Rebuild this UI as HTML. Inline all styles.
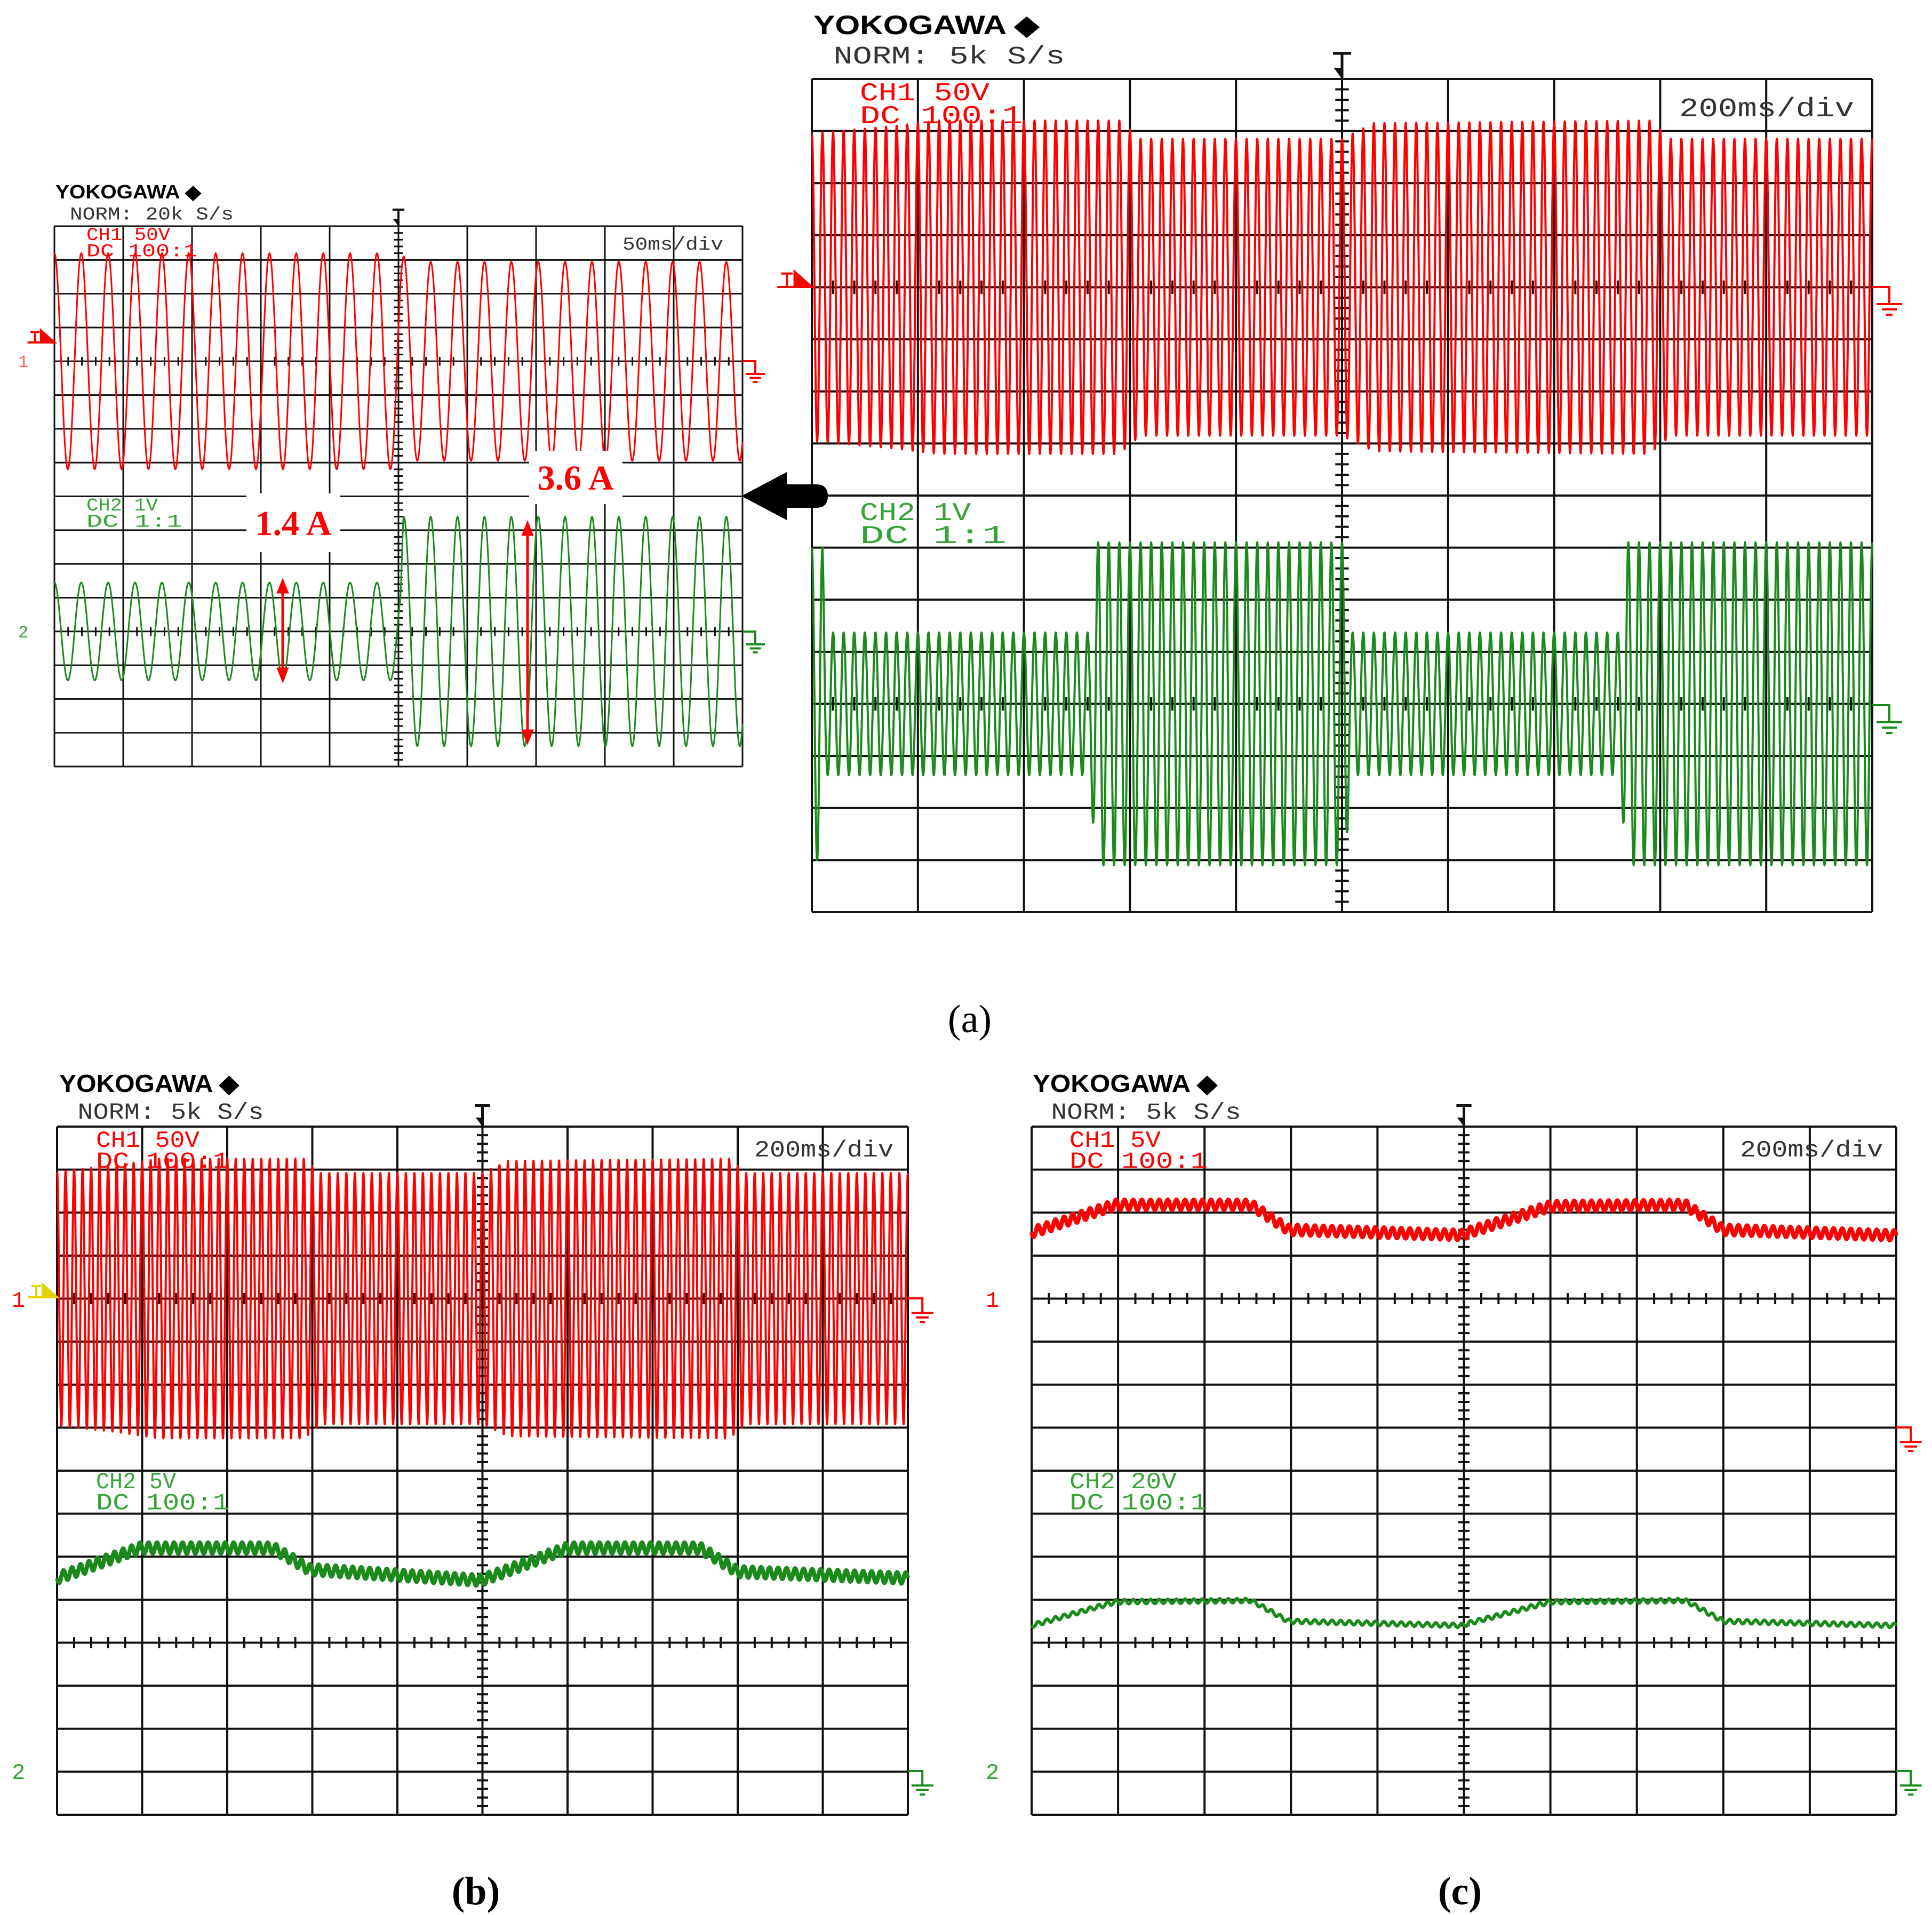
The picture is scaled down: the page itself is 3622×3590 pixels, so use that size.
<!DOCTYPE html>
<html><head><meta charset="utf-8"><style>
html,body{margin:0;padding:0;background:#fff}
svg{display:block}
.mono{font-family:"Liberation Mono",monospace}
.brand{font-family:"Liberation Sans",sans-serif;font-weight:bold}
.cap{font-family:"Liberation Serif",serif}
</style></head><body>
<svg id="fig" width="3622" height="3590" viewBox="0 0 3622 3590" xmlns="http://www.w3.org/2000/svg">
<g id="layer-grid"></g>
<g id="layer-wave"></g>
<g id="layer-top"></g>
</svg>
<script>
// ===== data =====
const smallT = [0, 0.50, 0.52, 1];
const smallRedAmp = [3.2, 3.2, 2.95, 2.95];
const smallGreenT = [0, 0.503, 0.507, 1];
const smallGreenAmp = [1.45, 1.45, 3.4, 3.4];
const smallCycles = 25.6;
const bigRedT = [0, 0.08, 0.12, 0.29, 0.31, 0.50, 0.53, 0.79, 0.81, 1];
const bigRedAmp = [2.95, 3.1, 3.2, 3.2, 2.85, 2.85, 3.15, 3.2, 2.85, 2.85];
const bigGreenT = [0, 0.010, 0.014, 0.262, 0.268, 0.503, 0.508, 0.762, 0.768, 1];
const bigGreenAmp = [3.0, 3.0, 1.37, 1.37, 3.1, 3.1, 1.37, 1.37, 3.1, 3.1];
const bigCycles = 100;
const bRedT = [0, 0.07, 0.12, 0.29, 0.31, 0.50, 0.53, 0.79, 0.81, 1];
const bRedAmp = [2.95, 3.1, 3.25, 3.25, 2.92, 2.92, 3.2, 3.25, 2.92, 2.92];
const levelT = [0, 0.097, 0.254, 0.297, 0.498, 0.505, 0.60, 0.756, 0.80, 1];
const bGreenLevel = [10.5, 9.8, 9.8, 10.3, 10.55, 10.5, 9.8, 9.8, 10.35, 10.5];
const cRedLevel = [2.46, 1.82, 1.82, 2.4, 2.52, 2.46, 1.85, 1.82, 2.4, 2.53];
const cGreenLevel = [11.6, 11.05, 11.02, 11.5, 11.6, 11.55, 11.05, 11.02, 11.5, 11.6];
const rippleCycles = 100;
const xDivs = 10, yDivs = 16;

const NS = 'http://www.w3.org/2000/svg';
const gGrid = document.getElementById('layer-grid');
const gWave = document.getElementById('layer-wave');
const gTop = document.getElementById('layer-top');
function mk(tag, attrs, parent) {
  const e = document.createElementNS(NS, tag);
  for (const k in attrs) e.setAttribute(k, attrs[k]);
  parent.appendChild(e);
  return e;
}
function lerp(ts, vs, t) {
  if (t <= ts[0]) return vs[0];
  for (let i = 1; i < ts.length; i++) {
    if (t <= ts[i]) { const f = (t - ts[i-1]) / (ts[i] - ts[i-1]); return vs[i-1] + f * (vs[i] - vs[i-1]); }
  }
  return vs[vs.length - 1];
}
const panels = {
  small: {x0: 102, y0: 424, x1: 1392, y1: 1437, sw: 3},
  big:   {x0: 1522, y0: 148, x1: 3510, y1: 1710, sw: 4},
  b:     {x0: 107, y0: 2112, x1: 1702, y1: 3402, sw: 4},
  c:     {x0: 1934, y0: 2112, x1: 3555, y1: 3402, sw: 4}
};
function xs(p, t) { return p.x0 + t * (p.x1 - p.x0); }
function ys(p, r) { return p.y0 + r * (p.y1 - p.y0) / yDivs; }

function drawGrid(name, p) {
  const g = mk('g', {}, gGrid);
  
  
  for (let i = 0; i <= xDivs; i++) {
    const x = xs(p, i / xDivs);
    const l = mk('line', {x1: x, y1: p.y0, x2: x, y2: p.y1, stroke: '#111', 'stroke-width': p.sw}, g);
    
    
  }
  for (let j = 0; j <= yDivs; j++) {
    const y = ys(p, j);
    const l = mk('line', {x1: p.x0, y1: y, x2: p.x1, y2: y, stroke: '#111', 'stroke-width': p.sw}, g);
    
    
  }
  const cw = (p.x1 - p.x0) / xDivs, rh = (p.y1 - p.y0) / yDivs, tl = rh * 0.13;
  [4, 12].forEach(r => {
    const y = ys(p, r);
    for (let k = 1; k < xDivs * 5; k++) {
      if (k % 5 === 0) continue;
      const x = p.x0 + k * cw / 5;
      mk('line', {x1: x, y1: y - tl, x2: x, y2: y + tl, stroke: '#111', 'stroke-width': p.sw}, g);
    }
  });
  const cx = xs(p, 0.5);
  for (let k = 1; k < yDivs * 5; k++) {
    if (k % 5 === 0) continue;
    const y = p.y0 + k * rh / 5;
    mk('line', {x1: cx - tl, y1: y, x2: cx + tl, y2: y, stroke: '#111', 'stroke-width': p.sw}, g);
  }
  const tm = mk('g', {}, gTop);
  
  
  const s = rh * 0.35;
  mk('path', {d: `M${cx - s*0.5},${p.y0 - s*1.4} L${cx + s*0.5},${p.y0 - s*1.4} M${cx},${p.y0 - s*1.4} L${cx},${p.y0}`, stroke: '#111', 'stroke-width': p.sw + 1, fill: 'none'}, tm);
  mk('path', {d: `M${cx - s*0.45},${p.y0 - s*0.6} L${cx},${p.y0} L${cx},${p.y0 - s*0.6}Z`, fill: '#111'}, tm);
}

function sineTrace(name, p, center, ts, amps, cycles, color, w) {
  const N = Math.round(cycles * 40);
  let d = '';
  for (let i = 0; i <= N; i++) {
    const t = i / N;
    const a = lerp(ts, amps, t);
    const y = ys(p, center - a * Math.cos(2 * Math.PI * cycles * t));
    d += (i ? 'L' : 'M') + xs(p, t).toFixed(1) + ',' + y.toFixed(1);
  }
  const e = mk('path', {d, stroke: color, 'stroke-width': w, fill: 'none', 'stroke-linejoin': 'round'}, gWave);
  
  
}
function dcTrace(name, p, ts, levels, ripple, color, w) {
  const N = rippleCycles * 16;
  let d = '';
  for (let i = 0; i <= N; i++) {
    const t = i / N;
    const lv = lerp(ts, levels, t);
    const y = ys(p, lv + ripple * Math.sin(2 * Math.PI * rippleCycles * t));
    d += (i ? 'L' : 'M') + xs(p, t).toFixed(1) + ',' + y.toFixed(1);
  }
  const e = mk('path', {d, stroke: color, 'stroke-width': w, fill: 'none', 'stroke-linejoin': 'round'}, gWave);
  
  
}

const RED = '#ff0000', GREEN = '#1a8a1a', LGREEN = '#36a336';
drawGrid('panel-a-zoom', panels.small);
drawGrid('panel-a-main', panels.big);
drawGrid('panel-b', panels.b);
drawGrid('panel-c', panels.c);

sineTrace('panel-a-zoom-ch1-voltage', panels.small, 4, smallT, smallRedAmp, smallCycles, RED, 3);
sineTrace('panel-a-zoom-ch2-current', panels.small, 12, smallGreenT, smallGreenAmp, smallCycles, GREEN, 3);
sineTrace('panel-a-main-ch1-voltage', panels.big, 4, bigRedT, bigRedAmp, bigCycles, RED, 4);
sineTrace('panel-a-main-ch2-current', panels.big, 12, bigGreenT, bigGreenAmp, bigCycles, GREEN, 4);
sineTrace('panel-b-ch1-voltage', panels.b, 4, bRedT, bRedAmp, bigCycles, RED, 4);
dcTrace('panel-b-ch2-dc', panels.b, levelT, bGreenLevel, 0.13, GREEN, 8);
dcTrace('panel-c-ch1-dc', panels.c, levelT, cRedLevel, 0.12, RED, 8);
dcTrace('panel-c-ch2-dc', panels.c, levelT, cGreenLevel, 0.05, GREEN, 6);

function txt(name, x, y, s, cls, size, color, tl, extra) {
  const a = Object.assign({x, y, class: cls, 'font-size': size, fill: color}, extra || {});
  if (tl) { a.textLength = tl; a.lengthAdjust = 'spacingAndGlyphs'; }
  const e = mk('text', a, gTop);
  e.textContent = s;
  
  
  e.setAttribute('xml:space', 'preserve');
  return e;
}
function header(pfx, x, yb, size, rate, bw, nw) {
  txt(pfx + '-brand', x, yb, 'YOKOGAWA ◆', 'brand', size, '#000', bw);
  txt(pfx + '-sample-rate', x + size * 0.75, yb + size * 1.1, 'NORM: ' + rate, 'mono', size * 0.95, '#333', nw);
}
header('panel-a-zoom', 104, 372, 36, '20k S/s', 273, 307);
header('panel-a-main', 1525, 64, 50, '5k S/s', 423, 434);
header('panel-b', 111, 2047, 46, '5k S/s', 337, 349);
header('panel-c', 1936, 2047, 46, '5k S/s', 346, 356);

function chLabel(pfx, x, y, l1, l2, size, color, w1, w2) {
  txt(pfx + '-line1', x, y, l1, 'mono', size, color, w1);
  txt(pfx + '-line2', x, y + size * 0.9, l2, 'mono', size, color, w2);
}
chLabel('panel-a-zoom-ch1-label', 162, 450, 'CH1 50V', 'DC  100:1', 34, RED, 157, 208);
chLabel('panel-a-zoom-ch2-label', 162, 957, 'CH2 1V', 'DC   1:1', 34, LGREEN, 134, 180);
chLabel('panel-a-main-ch1-label', 1612, 188, 'CH1 50V', 'DC  100:1', 48, RED, 243, 305);
chLabel('panel-a-main-ch2-label', 1612, 975, 'CH2 1V', 'DC   1:1', 48, LGREEN, 208, 275);
chLabel('panel-b-ch1-label', 180, 2150, 'CH1 50V', 'DC  100:1', 44, RED, 194, 250);
chLabel('panel-b-ch2-label', 180, 2790, 'CH2 5V', 'DC  100:1', 44, LGREEN, 150, 250);
chLabel('panel-c-ch1-label', 2005, 2150, 'CH1 5V', 'DC  100:1', 44, RED, 171, 259);
chLabel('panel-c-ch2-label', 2005, 2790, 'CH2 20V', 'DC  100:1', 44, LGREEN, 201, 259);

txt('panel-a-zoom-timebase', 1167, 468, '50ms/div', 'mono', 34, '#333', 189);
txt('panel-a-main-timebase', 3148, 218, '200ms/div', 'mono', 50, '#333', 328);
txt('panel-b-timebase', 1414, 2168, '200ms/div', 'mono', 44, '#333', 261);
txt('panel-c-timebase', 3262, 2168, '200ms/div', 'mono', 44, '#333', 268);

txt('panel-a-zoom-ch1-marker', 34, 688, '1', 'mono', 32, '#ff6060');
txt('panel-a-zoom-ch2-marker', 34, 1195, '2', 'mono', 32, LGREEN);
txt('panel-b-ch1-marker', 22, 2450, '1', 'mono', 42, RED);
txt('panel-b-ch2-marker', 22, 3335, '2', 'mono', 42, LGREEN);
txt('panel-c-ch1-marker', 1848, 2450, '1', 'mono', 42, RED);
txt('panel-c-ch2-marker', 1848, 3335, '2', 'mono', 42, LGREEN);

function trigLevel(name, x, y, s, color) {
  const e = mk('path', {d: `M${x - s*1.8},${y} L${x},${y} L${x - s*0.9},${y - s*0.8} L${x - s*0.9},${y}Z M${x - s*1.6},${y - s*0.7} L${x - s*1.0},${y - s*0.7} M${x - s*1.3},${y - s*0.7} L${x - s*1.3},${y}`, stroke: color, 'stroke-width': 4, fill: color}, gTop);
  
  
}
trigLevel('panel-a-zoom-trigger-level', 102, 642, 28, RED);
trigLevel('panel-a-main-trigger-level', 1522, 538, 36, RED);
trigLevel('panel-b-trigger-level', 107, 2432, 30, '#e6d200');

function ground(name, x, y, s, color) {
  const e = mk('path', {d: `M${x},${y} L${x + s*0.8},${y} L${x + s*0.8},${y + s*0.8} M${x + s*0.2},${y + s*0.8} L${x + s*1.4},${y + s*0.8} M${x + s*0.45},${y + s*1.05} L${x + s*1.15},${y + s*1.05} M${x + s*0.65},${y + s*1.3} L${x + s*0.95},${y + s*1.3}`, stroke: color, 'stroke-width': 4, fill: 'none'}, gTop);
  
  
}
ground('panel-a-zoom-ch1-ground', 1392, 677, 30, RED);
ground('panel-a-zoom-ch2-ground', 1392, 1184, 30, GREEN);
ground('panel-a-main-ch1-ground', 3510, 538, 40, RED);
ground('panel-a-main-ch2-ground', 3510, 1322, 40, GREEN);
ground('panel-b-ch1-ground', 1702, 2434, 34, RED);
ground('panel-b-ch2-ground', 1702, 3320, 34, GREEN);
ground('panel-c-ch1-ground', 3555, 2676, 34, RED);
ground('panel-c-ch2-ground', 3555, 3320, 34, GREEN);

function box(name, x, y, w, h) {
  const e = mk('rect', {x, y, width: w, height: h, fill: '#fff'}, gTop);
  
  
}
box('label-14a-background', 462, 925, 176, 110);
box('label-36a-background', 992, 845, 175, 100);
txt('current-label-1-4a', 550, 1003, '1.4 A', 'cap', 66, RED, 0, {'font-weight': 'bold', 'text-anchor': 'middle'});
txt('current-label-3-6a', 1079, 918, '3.6 A', 'cap', 66, RED, 0, {'font-weight': 'bold', 'text-anchor': 'middle'});
function dbl(name, x, y1, y2) {
  const e = mk('path', {d: `M${x},${y1 + 14} L${x},${y2 - 14} M${x - 8},${y1 + 20} L${x},${y1} L${x + 8},${y1 + 20}Z M${x - 8},${y2 - 20} L${x},${y2} L${x + 8},${y2 - 20}Z`, stroke: RED, 'stroke-width': 5, fill: RED}, gTop);
  
  
}
dbl('peak-arrow-1-4a', 530, 1090, 1274);
dbl('peak-arrow-3-6a', 989, 982, 1390);
const arr = mk('path', {d: 'M1390,930 L1475,885 L1475,908 L1530,908 Q1552,908 1552,930 Q1552,952 1530,952 L1475,952 L1475,975 Z', fill: '#000'}, gTop);



txt('caption-a', 1818, 1935, '(a)', 'cap', 74, '#000', 0, {'text-anchor': 'middle'});
txt('caption-b', 892, 3570, '(b)', 'cap', 74, '#000', 0, {'text-anchor': 'middle', 'font-weight': 'bold'});
txt('caption-c', 2737, 3570, '(c)', 'cap', 74, '#000', 0, {'text-anchor': 'middle', 'font-weight': 'bold'});
</script>
</body></html>
